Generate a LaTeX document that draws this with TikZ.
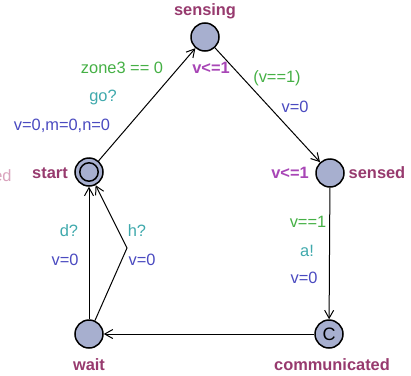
\documentclass[tikz,border=0pt]{standalone}
\usepackage{fontspec}
\setmainfont{Liberation Sans}
\usetikzlibrary{
    arrows.meta,
    positioning,
}
\definecolor{locfill}{HTML}{A7AFCF}
\definecolor{locname}{HTML}{973A6E}
\definecolor{invcol}{HTML}{A846B6}
\definecolor{guardcol}{HTML}{45B045}
\definecolor{synccol}{HTML}{3FA9AC}
\definecolor{updcol}{HTML}{4A4AC0}
\definecolor{fadecol}{HTML}{D9A3BD}

\begin{document}
\begin{tikzpicture}[x=0.5pt, y=-0.5pt,
        loc/.style={circle, draw, line width=0.75pt, fill=locfill,
            minimum size=14pt, inner sep=0pt},
        lbl/.style={inner sep=0pt, font=\fontsize{8.2}{9}\selectfont},
        locname/.style={lbl, font=\bfseries\fontsize{8.2}{9}\selectfont, text=locname},
        inv/.style={lbl, font=\bfseries\fontsize{8.2}{9}\selectfont, text=invcol},
        guard/.style={lbl, text=guardcol},
        sync/.style={lbl, text=synccol},
        upd/.style={lbl, text=updcol},
        trans/.style={draw, line width=0.5pt, -{Straight Barb[length=4pt, width=4.5pt]}},
    ]
        \useasboundingbox (0,0) rectangle (411,375);

        % locations
        \node[loc] (start) at (89, 172) {};
        \draw[line width=0.75pt] (start.center) circle (4.6pt);
        \node[loc] (sensing) at (205, 37) {};
        \node[loc] (sensed) at (330, 173) {};
        \node[loc] (comm) at (329, 334) {};
        \node[lbl, font=\fontsize{9}{9}\selectfont] (commflag) at (329, 334.5) {C};
        \node[loc] (wait) at (89, 334) {};
        \coordinate (bend) at (127, 248);

        % names and invariants
        \node[locname] (startname) at (50, 173) {start};
        \node[locname] (sensingname) at (205, 11) {sensing};
        \node[inv] (sensinginv) at (211, 68) {v<=1};
        \node[locname] (sensedname) at (377, 173) {sensed};
        \node[inv] (sensedinv) at (290, 173) {v<=1};
        \node[locname] (commname) at (332, 365) {communicated};
        \node[locname] (waitname) at (89, 365) {wait};
        \node[lbl, anchor=east, text=fadecol] (cutname) at (12, 176) {ed};

        % transitions
        \path[trans] (start) -- (sensing);
        \path[trans] (sensing) -- (sensed);
        \path[trans] (sensed) -- (comm);
        \path[trans] (comm) -- (wait);
        \path[trans] (wait) -- (start);
        \path[trans] (wait) -- (bend) -- (start);

        % transition labels
        \node[guard] (g1) at (122, 68) {zone3 == 0};
        \node[sync] (s1) at (103, 97) {go?};
        \node[upd] (u1) at (62, 126) {v=0,m=0,n=0};
        \node[guard] (g2) at (277, 78) {(v==1)};
        \node[upd] (u2) at (295, 107) {v=0};
        \node[guard] (g3) at (308, 222) {v==1};
        \node[sync] (s3) at (307, 251) {a!};
        \node[upd] (u3) at (304, 278) {v=0};
        \node[sync] (s4) at (69, 231) {d?};
        \node[upd] (u4) at (65, 260) {v=0};
        \node[sync] (s5) at (137, 231) {h?};
        \node[upd] (u5) at (142, 260) {v=0};
    \end{tikzpicture}
\end{document}
